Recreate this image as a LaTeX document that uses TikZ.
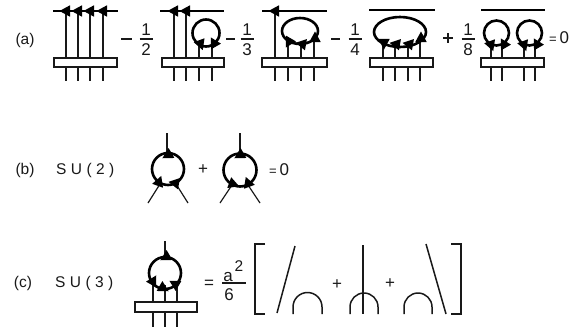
\documentclass[tikz,border=0pt]{standalone}
\usepackage{fontspec}
\usetikzlibrary{calc}
\setmainfont{Liberation Sans}
\tikzset{
  thinl/.style={line width=1.2pt,black!90},
  thickl/.style={line width=2.6pt,black},
  basebox/.style={draw,line width=1.2pt,black!90,fill=white,minimum height=9pt,inner sep=0pt,outer sep=0pt},
  txt/.style={inner sep=0pt,font=\fontsize{15.5}{15.5}\selectfont,black!90},
  frac/.style={inner sep=0pt,font=\fontsize{17}{17}\selectfont,black!90},
}
\newcommand{\ah}[3]{\fill[black] ($(#1,#2)+(#3:6.5)$) -- ($(#1,#2)+(#3+125:7)$) -- ($(#1,#2)+(#3-125:7)$) -- cycle;}
\newcommand{\fracn}[2]{%
  \node[frac] at (#1,30) {1};
  \draw[thinl] (#1-6.5,39) -- (#1+6.5,39);
  \node[frac] at (#1,50) {#2};}
\newcommand{\spc}{\kern 4.4pt}
\begin{document}
\begin{tikzpicture}[x=1pt,y=-1pt]
\useasboundingbox (0,0) rectangle (577,330);
\fill[white] (0,0) rectangle (577,330);
% (a)
\node[txt] (la) at (25,40) {(a)};
% term 1
\draw[thickl] (53,11) -- (118,11);
\foreach \x in {66,78,90,103}{\draw[thinl] (\x,11) -- (\x,81); \ah{\x}{11}{180}}
\node[basebox,minimum width=63pt] (b1) at (85.5,62.5) {};
% minus 1/2
\draw[thinl] (121,39) -- (132,39);
\fracn{146}{2}
% term 2
\draw[thickl] (160,11) -- (224,11);
\foreach \x in {174,186}{\draw[thinl] (\x,11) -- (\x,81); \ah{\x}{11}{180}}
\foreach \x in {199,212}{\draw[thinl] (\x,44) -- (\x,81);}
\node[basebox,minimum width=62pt] (b2) at (193,62.5) {};
\draw[thickl] (206,33) circle (13.5);
\ah{200.5}{44}{70}
\ah{214}{43}{-120}
% minus 1/3
\draw[thinl] (226,39) -- (235,39);
\fracn{247}{3}
% term 3
\draw[thickl] (262,11) -- (327,11);
\draw[thinl] (275,11) -- (275,81); \ah{275}{11}{180}
\foreach \x in {288,301,314}{\draw[thinl] (\x,42) -- (\x,81);}
\node[basebox,minimum width=65pt] (b3) at (294.5,62.5) {};
\draw[thickl] (300,31) ellipse (18 and 13);
\ah{289}{42}{120}
\ah{302}{44}{190}
\ah{315}{38}{-90}
% minus 1/4
\draw[thinl] (331,39) -- (340,39);
\fracn{355}{4}
% term 4
\draw[thickl] (369,10) -- (435,10);
\foreach \x in {383,395,408,420}{\draw[thinl] (\x,42) -- (\x,81);}
\node[basebox,minimum width=63pt] (b4) at (401.5,62.5) {};
\draw[thickl] (400,32) ellipse (26 and 15);
\ah{384}{43}{90}
\ah{396}{44}{190}
\ah{409}{44}{190}
\ah{421}{38}{-90}
% plus 1/8
\draw[thinl] (443,38) -- (453,38) (448,33) -- (448,43);
\fracn{468}{8}
% term 5
\draw[thickl] (481,10) -- (545,10);
\foreach \x in {491,502,524,535}{\draw[thinl] (\x,44) -- (\x,81);}
\node[basebox,minimum width=63pt] (b5) at (512.5,62.5) {};
\draw[thickl] (496.5,33) circle (12.5);
\draw[thickl] (529.5,33) circle (12.5);
\ah{491}{45}{70}
\ah{504}{44}{-120}
\ah{524}{45}{70}
\ah{537}{44}{-120}
\node[frac,anchor=west] (eqa) at (549,38) {{\fontsize{13}{13}\selectfont =}\,0};
% (b)
\node[txt] (lb) at (25,170) {(b)};
\node[txt,anchor=west] (su2) at (56,170) {S\spc U\spc(\spc 2\spc)};
\draw[thinl] (167,133) -- (167,154);
\draw[thinl] (148,203) -- (160,184);
\draw[thinl] (188,203) -- (176,184);
\draw[thickl] (168,169) circle (16);
\ah{168}{155}{150}
\ah{159}{182}{-70}
\ah{175}{183}{190}
\node[frac] (pb) at (203,170) {+};
\draw[thinl] (240,133) -- (240,154);
\draw[thinl] (220,203) -- (232,185);
\draw[thinl] (260,203) -- (248,185);
\draw[thickl] (240,170) circle (16.5);
\ah{240}{155}{150}
\ah{233}{184}{20}
\ah{248}{183}{-110}
\node[frac,anchor=west] (eqb) at (269,170) {{\fontsize{13}{13}\selectfont =}\,0};
% (c)
\node[txt] (lc) at (23,283) {(c)};
\node[txt,anchor=west] (su3) at (55,283) {S\spc U\spc(\spc 3\spc)};
\draw[thinl] (165,241) -- (165,258);
\foreach \x in {153,165,177}{\draw[thinl] (\x,285) -- (\x,327);}
\node[basebox,minimum width=62pt,minimum height=10pt] (b6) at (166,307) {};
\draw[thickl] (165,273) circle (16);
\ah{166}{257}{150}
\ah{153}{281}{-60}
\ah{163}{288}{30}
\ah{175}{284}{-150}
\node[frac] (eqc) at (209,284) {=};
\node[frac] (fa) at (228,277) {a};
\node[txt] (f2) at (239,266) {2};
\draw[thinl] (222,283) -- (246,283);
\node[frac] (f6) at (229,295) {6};
% bracket
\draw[thinl,line width=1.6pt] (265,244) -- (255,244) -- (255,314) -- (265,314);
\draw[thinl,line width=1.6pt] (451,244) -- (461,244) -- (461,314) -- (451,314);
\draw[thinl,line width=1.5pt] (277,313) -- (295,246);
\draw[thinl,line width=1.5pt] (293,314) -- (293,307) arc (180:360:14.5) -- (322,314);
\node[frac] (p1) at (337,285) {+};
\draw[thinl,line width=1.5pt] (363,245) -- (363,314);
\draw[thinl,line width=1.5pt] (350,314) -- (350,307) arc (180:360:14) -- (378,314);
\node[frac] (p2) at (390,284) {+};
\draw[thinl,line width=1.5pt] (404,314) -- (404,307) arc (180:360:14) -- (432,314);
\draw[thinl,line width=1.5pt] (426,244) -- (446,314);
\end{tikzpicture}
\end{document}
